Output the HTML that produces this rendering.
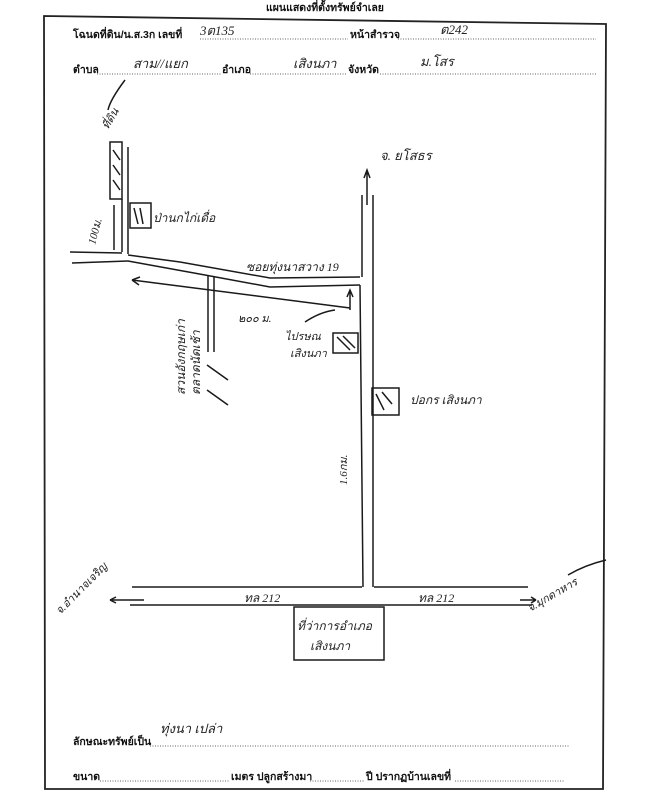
<!DOCTYPE html>
<html><head><meta charset="utf-8"><style>
html,body{margin:0;padding:0;background:#fff;}
svg{display:block;}
.p{font-family:"Liberation Sans","Noto Sans CJK SC",sans-serif;font-weight:bold;font-size:10.5px;fill:#111;}
.h{font-family:"Liberation Serif","Noto Sans CJK SC",serif;font-style:italic;font-size:13px;fill:#222;}
</style></head><body>
<svg width="647" height="800" viewBox="0 0 647 800" xmlns="http://www.w3.org/2000/svg">
<rect width="647" height="800" fill="#fff"/>
<text class="p" x="325" y="11" text-anchor="middle" font-size="13">แผนแสดงที่ตั้งทรัพย์จำเลย</text>
<g stroke="#222" fill="none" stroke-width="1.8">
<path d="M44 16 L606 24 L603 789 L45 789 Z"/>
</g>
<g class="p">
<text x="73" y="38">โฉนดที่ดิน/น.ส.3ก เลขที่</text>
<text x="350" y="38">หน้าสำรวจ</text>
<text x="73" y="73">ตำบล</text>
<text x="222" y="73">อำเภอ</text>
<text x="348" y="73">จังหวัด</text>
<text x="73" y="745">ลักษณะทรัพย์เป็น</text>
<text x="73" y="780">ขนาด</text>
<text x="231" y="780">เมตร ปลูกสร้างมา</text>
<text x="366" y="780">ปี ปรากฏบ้านเลขที่</text>
</g>
<g stroke="#333" stroke-dasharray="1 1.5" stroke-width="0.8">
<line x1="200" y1="39" x2="348" y2="39"/><line x1="398" y1="39" x2="596" y2="39"/>
<line x1="97" y1="74" x2="221" y2="74"/><line x1="250" y1="74" x2="346" y2="74"/><line x1="380" y1="74" x2="596" y2="74"/>
<line x1="150" y1="746" x2="570" y2="746"/>
<line x1="100" y1="781" x2="230" y2="781"/><line x1="310" y1="781" x2="365" y2="781"/><line x1="455" y1="781" x2="565" y2="781"/>
</g>
<g class="h">
<text x="200" y="35">3ต135</text><text x="440" y="34">ต242</text>
<text x="133" y="68">สาม//แยก</text><text x="293" y="68">เสิงนภา</text><text x="420" y="66">ม.โสร</text>
<text x="160" y="733">ทุ่งนา เปล่า</text>
<text x="380" y="160">จ. ยโสธร</text>
<text x="153" y="222" font-size="12">ป่านกไก่เดื่อ</text>
<text x="246" y="271" font-size="12">ซอยทุ่งนาสวาง 19</text>
<text x="238" y="322" font-size="11">๒๐๐ ม.</text>
<text x="285" y="340" font-size="11">ไปรษณ</text><text x="290" y="357" font-size="11">เสิงนภา</text>
<text x="410" y="404" font-size="12">ปอกร เสิงนภา</text>
<text x="244" y="602" font-size="12">ทล 212</text><text x="418" y="602" font-size="12">ทล 212</text>
<text x="297" y="630" font-size="12">ที่ว่าการอำเภอ</text><text x="310" y="650" font-size="12">เสิงนภา</text>
<text font-size="11" transform="translate(108,130) rotate(-60)">ที่ดิน</text>
<text font-size="11" transform="translate(95,245) rotate(-75)">100ม.</text>
<text font-size="11" transform="translate(347,485) rotate(-90)">1.6กม.</text>
<text font-size="12" transform="translate(185,395) rotate(-90)">สวนอังกฤษเก่า</text>
<text font-size="12" transform="translate(200,395) rotate(-90)">ตลาดนัดเช้า</text>
<text font-size="11" transform="translate(60,615) rotate(-45)">จ.อำนาจเจริญ</text>
<text font-size="11" transform="translate(530,612) rotate(-30)">จ.มุกดาหาร</text>
</g>
<g stroke="#1a1a1a" fill="none" stroke-width="1.5">
<path d="M125 80 Q110 100 108 110"/>
<rect x="110" y="142" width="12" height="57"/>
<path d="M113 150 L120 160 M113 165 L120 175 M113 180 L120 190"/>
<line x1="128" y1="147" x2="128" y2="254"/>
<line x1="122" y1="199" x2="122" y2="252"/>
<line x1="114" y1="205" x2="114" y2="250"/>
<path d="M70 252 L122 253 M128 255 L180 262 L270 278 L360 277"/>
<path d="M72 263 L128 261 L205 275 L270 287 L360 285"/>
<line x1="208" y1="275" x2="208" y2="352"/>
<line x1="214" y1="276" x2="214" y2="352"/>
<path d="M207 365 L228 380 M207 390 L228 405"/>
<path d="M132 280 L350 308 M132 280 L140 277 M132 280 L139 285"/>
<line x1="362" y1="195" x2="362" y2="277"/>
<line x1="360" y1="285" x2="363" y2="587"/>
<line x1="373" y1="195" x2="373" y2="587"/>
<path d="M367 205 L367 170 M364 178 L367 170 L370 178"/>
<path d="M350 310 L350 290 M347 297 L350 290 L353 297"/>
<path d="M305 322 Q320 312 335 310"/>
<rect x="130" y="203" width="21" height="25"/><path d="M134 208 L138 224 M140 208 L143 224"/>
<rect x="333" y="333" width="25" height="20"/><path d="M337 337 L350 350 M343 336 L355 348"/>
<rect x="372" y="388" width="27" height="27"/><path d="M376 394 L384 410 M382 392 L392 404"/>
<line x1="132" y1="587" x2="362" y2="587"/>
<line x1="374" y1="587" x2="528" y2="587"/>
<line x1="130" y1="605" x2="532" y2="605"/>
<path d="M144 600 L110 600 M110 600 L116 597 M110 600 L116 603"/>
<path d="M520 600 L536 600 M536 600 L531 597 M536 600 L531 603"/>
<path d="M606 560 Q585 565 568 575"/>
<rect x="294" y="607" width="90" height="53"/>
</g>
</svg>
</body></html>
